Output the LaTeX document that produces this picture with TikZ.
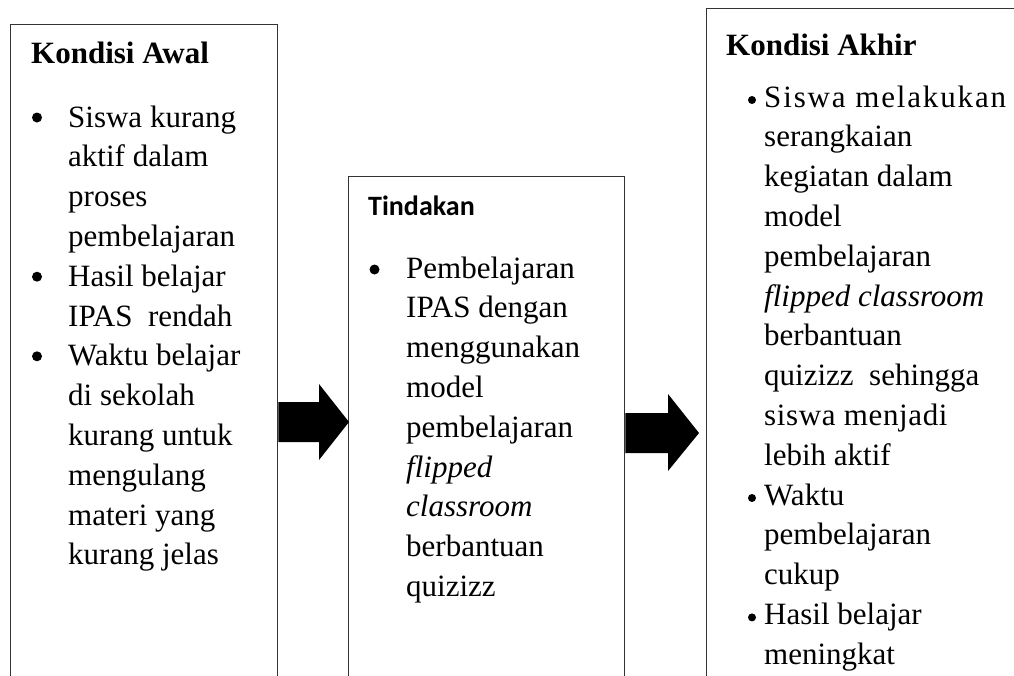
\documentclass[tikz,border=0pt]{standalone}
\usepackage{fontspec}
\setmainfont{Liberation Serif}
\newfontfamily\calib{Carlito}
\begin{document}
\begin{tikzpicture}[x=1pt,y=-1pt,
  panel/.style={draw=black!80, line width=1.3pt, anchor=north west, inner sep=0pt},
  body/.style={anchor=base west, inner sep=0pt, align=left, font=\fontsize{31}{39.8}\selectfont},
  ttl/.style={anchor=base west, inner sep=0pt, font=\fontsize{31}{39.8}\selectfont\bfseries},
  dot/.style={circle, fill=black, inner sep=0pt, minimum size=10pt},
  smalldot/.style={circle, fill=black, inner sep=0pt, minimum size=8pt},
  blockarrow/.style={fill=black}]
\clip (0,0) rectangle (1014,675);
\fill[white] (0,0) rectangle (1014,675);

% panels
\node[panel, minimum width=267pt, minimum height=700pt] (b1) at (10,24) {};
\node[panel, minimum width=276pt, minimum height=560pt] (b2) at (348,176) {};
\node[panel, minimum width=330pt, minimum height=720pt] (b3) at (706,8) {};

% block arrows
\fill[blockarrow] (b1.east |- 0,402) -- (319,402) -- (319,384) -- (349,422) -- (319,460) -- (319,442) -- (b1.east |- 0,442) -- cycle;
\fill[blockarrow] (b2.east |- 0,413) -- (668,413) -- (668,394) -- (699,433) -- (668,471) -- (668,453) -- (b2.east |- 0,453) -- cycle;

% panel 1 (base anchor = baseline of last line)
\node[ttl] (t1) at (31,63) {Kondisi Awal};
\node[dot] (d11) at (37,117.5) {};
\node[body] (i11) at (68,246.4) {Siswa kurang\\aktif dalam\\proses\\pembelajaran};
\node[dot] (d12) at (37,276.7) {};
\node[body] (i12) at (68,326) {Hasil belajar\\IPAS\ \ rendah};
\node[dot] (d13) at (37,356.3) {};
\node[body] (i13) at (68,564.8) {Waktu belajar\\di sekolah\\kurang untuk\\mengulang\\materi yang\\kurang jelas};

% panel 2
\node[anchor=base west, inner sep=0pt, font=\fontsize{28}{32}\calib\bfseries] (t2) at (368,215) {Tindakan};
\node[dot] (d21) at (374.5,269.5) {};
\node[body] (i21) at (406,596.4) {Pembelajaran\\IPAS dengan\\menggunakan\\model\\pembelajaran\\\textit{flipped}\\\textit{classroom}\\berbantuan\\quizizz};

% panel 3
\node[ttl] (t3) at (726,55) {Kondisi Akhir};
\node[smalldot] (d31) at (752,100) {};
\node[body] (i31) at (764,465.2) {{\addfontfeature{LetterSpace=6}Siswa melakukan}\\serangkaian\\kegiatan dalam\\model\\pembelajaran\\\textit{flipped classroom}\\berbantuan\\quizizz\ \ sehingga\\{\addfontfeature{LetterSpace=2}siswa menjadi}\\lebih aktif};
\node[smalldot] (d32) at (752,498) {};
\node[body] (i32) at (764,584.6) {Waktu\\pembelajaran\\cukup};
\node[smalldot] (d33) at (752,617.4) {};
\node[body] (i33) at (764,664.2) {Hasil belajar\\meningkat};
\end{tikzpicture}
\end{document}
